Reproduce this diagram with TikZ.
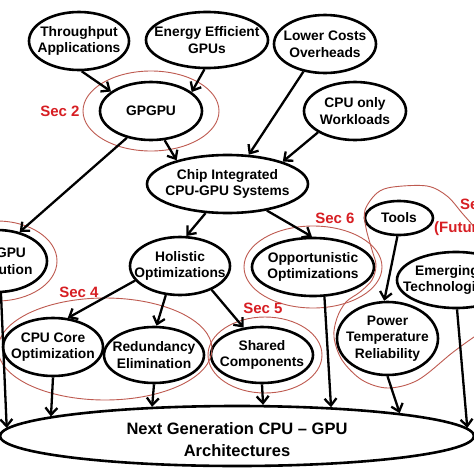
\documentclass[tikz,border=0pt]{standalone}
\usepackage{fontspec}
\setmainfont{Liberation Sans}
\usetikzlibrary{shapes.geometric,arrows.meta}
\definecolor{ringred}{RGB}{190,90,80}
\definecolor{secred}{RGB}{215,30,35}
\begin{document}
\begin{tikzpicture}[x=1pt,y=-1pt,
  ell/.style={ellipse,draw,line width=2.6pt,inner sep=0pt},
  txt/.style={font=\fontsize{13.8}{16.5}\selectfont\bfseries,align=center,inner sep=0pt},
  ngtxt/.style={font=\fontsize{16.5}{22}\selectfont\bfseries,align=center,inner sep=0pt},
  arr/.style={line width=2.3pt,-{Straight Barb[length=7pt,width=12pt]}},
  ring/.style={draw=ringred,line width=0.9pt},
  sec/.style={text=secred,font=\fontsize{15}{18}\selectfont\bfseries,inner sep=0pt}]
\clip (0,0) rectangle (474,474);
\fill[white] (0,0) rectangle (474,474);
% nodes
\node[ell,minimum width=100pt,minimum height=58pt,label={[txt]center:{Throughput\\Applications}}] (thr) at (79,41) {};
\node[ell,minimum width=122pt,minimum height=56pt,label={[txt]center:{Energy Efficient\\GPUs}}] (eng) at (207,40) {};
\node[ell,minimum width=102pt,minimum height=58pt,label={[txt]center:{Lower Costs\\Overheads}}] (low) at (325,44) {};
\node[ell,minimum width=102pt,minimum height=58pt,label={[txt]center:{GPGPU}}] (gp) at (151,111) {};
\node[ell,minimum width=102pt,minimum height=58pt,label={[txt]center:{CPU only\\Workloads}}] (cpo) at (355,111) {};
\node[ell,minimum width=161pt,minimum height=58pt,label={[txt]center:{Chip Integrated\\CPU-GPU Systems}}] (chip) at (227.5,184) {};
\node[ell,minimum width=100pt,minimum height=62pt,label={[txt,xshift=4pt]center:{GPGPU\\Evolution}}] (evo) at (-3,261) {};
\node[ell,minimum width=100pt,minimum height=58pt,label={[txt]center:{Holistic\\Optimizations}}] (hol) at (180,266) {};
\node[ell,minimum width=122pt,minimum height=58pt,label={[txt]center:{Opportunistic\\Optimizations}}] (opp) at (313,267) {};
\node[ell,minimum width=68pt,minimum height=34pt,label={[txt]center:{Tools}}] (tools) at (399,218) {};
\node[ell,minimum width=118pt,minimum height=56pt,label={[txt,xshift=-9pt]center:{Emerging\\Technologies}}] (emg) at (456,280) {};
\node[ell,minimum width=100pt,minimum height=58pt,label={[txt]center:{CPU Core\\Optimization}}] (core) at (53,347) {};
\node[ell,minimum width=100pt,minimum height=56pt,label={[txt]center:{Redundancy\\Elimination}}] (red) at (154,355) {};
\node[ell,minimum width=102pt,minimum height=56pt,label={[txt]center:{Shared\\Components}}] (sh) at (262,355) {};
\node[ell,minimum width=101pt,minimum height=73pt,label={[txt]center:{Power\\Temperature\\Reliability}}] (pwr) at (387.5,338.5) {};
\node[ell,minimum width=474pt,minimum height=60pt,label={[ngtxt,yshift=-4pt]center:{Next Generation CPU -- GPU\\Architectures}}] (ng) at (237,436) {};
% section rings
\draw[ring] (gp.center) ellipse [x radius=68pt,y radius=40pt];
\draw[ring] (evo.center) ellipse [x radius=60pt,y radius=40pt];
\draw[ring] (opp.center) ellipse [x radius=69pt,y radius=41pt];
\draw[ring] (105,349) ellipse [x radius=107pt,y radius=51pt];
\draw[ring] (265,355) ellipse [x radius=57pt,y radius=38pt];
\draw[ring] plot[smooth cycle,tension=0.55] coordinates {(377,193) (393,187) (427,186) (447,196) (462,213) (478,232) (500,265) (500,320) (474,337) (452,353) (418,380) (388,388) (362,380) (342,360) (334,337) (337,318) (346,302) (360,292) (372,280) (376,265) (372,250) (366,228) (365,210)};
% section labels
\node[sec] (s2) at (60,111) {Sec 2};
\node[sec] (s6) at (335,218) {Sec 6};
\node[sec] (s4) at (79,292) {Sec 4};
\node[sec] (s5) at (263,308) {Sec 5};
\node[sec,anchor=west] (s7) at (460,204) {Sec 7};
\node[sec,anchor=west] (s7b) at (434,229) {(Future)};
% arrows
\draw[arr] (thr.-85) -- (gp.154);
\draw[arr] (eng.-95) -- (gp.25);
\draw[arr] (gp.-65) -- (chip.155);
\draw[arr] (gp.-132) -- (evo.52);
\draw[arr] (low.-128) -- (chip.54);
\draw[arr] (cpo.-150) -- (chip.22);
\draw[arr] (chip.-127) -- (hol.78);
\draw[arr] (chip.-34) -- (opp.92);
\draw[arr] (hol.-162) -- (core.63);
\draw[arr] (hol.-116) -- (red.85);
\draw[arr] (hol.-37) -- (sh.124);
\draw[arr] (tools.-95) -- (pwr.95);
\draw[arr] (evo.-83) -- (ng.178.2);
\draw[arr] (core.south) -- (ng.174.1);
\draw[arr] (red.south) -- (ng.161.3);
\draw[arr] (sh.south) -- (ng.50);
\draw[arr] (opp.-69) -- (ng.17.8);
\draw[arr] (pwr.south) -- (ng.8.76);
\draw[arr] (emg.-88) -- (ng.2.8);
\end{tikzpicture}
\end{document}
